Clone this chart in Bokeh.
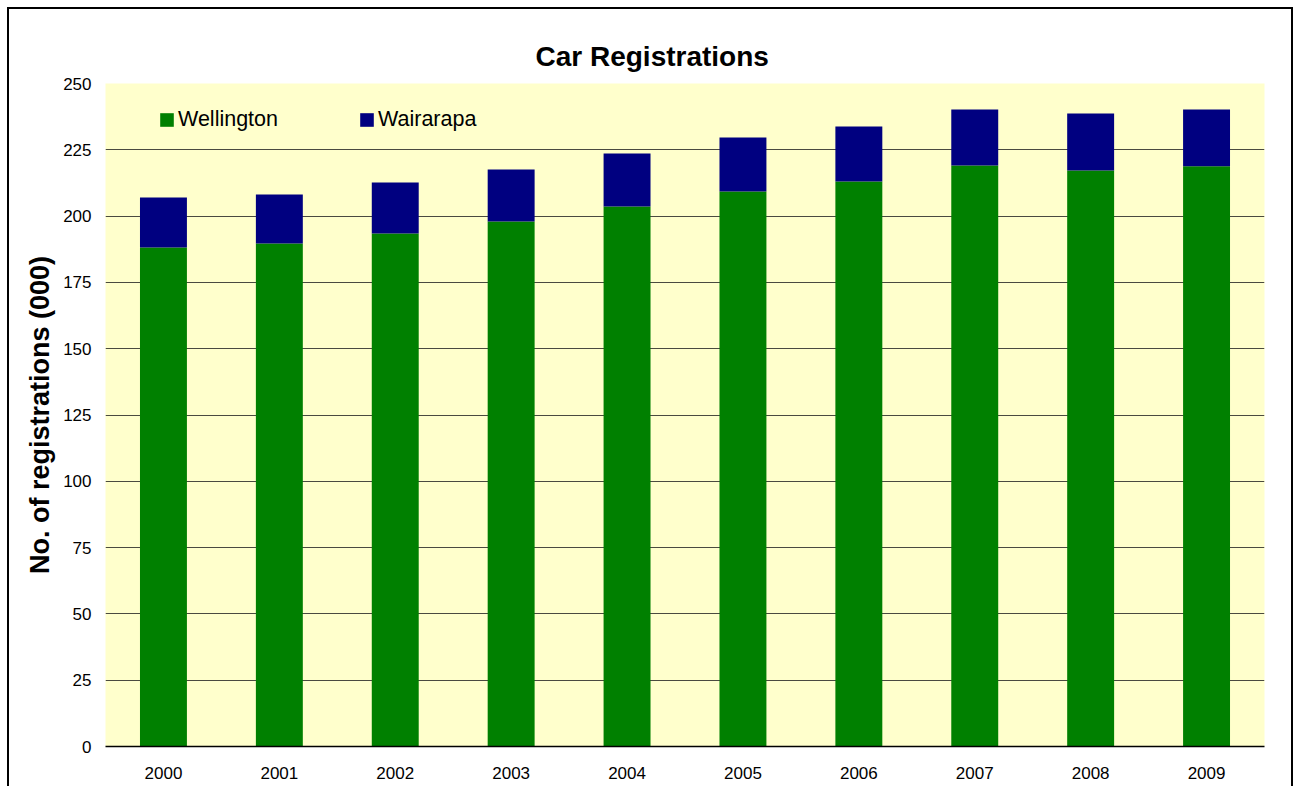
from bokeh.plotting import figure
from bokeh.layouts import column
from bokeh.models import Legend, LegendItem, FactorRange, Range1d, FixedTicker
from bokeh.embed import file_html
from bokeh.resources import INLINE

years = ["2000", "2001", "2002", "2003", "2004", "2005", "2006", "2007", "2008", "2009"]
wellington = [188.2, 189.7, 193.4, 198.0, 203.6, 209.3, 213.0, 219.1, 217.2, 218.8]
wairarapa = [18.8, 18.4, 19.3, 19.6, 20.0, 20.3, 20.8, 21.1, 21.5, 21.4]
y_ticks = [0, 25, 50, 75, 100, 125, 150, 175, 200, 225, 250]

FONT = "Liberation Sans"

p = figure(
    width=1286, height=779,
    x_range=FactorRange(*years, range_padding=0),
    y_range=Range1d(0, 250),
    output_backend="svg", toolbar_location=None,
    min_border_left=96, min_border_right=31, min_border_top=74, min_border_bottom=42,
    title="Car Registrations",
)
p.styles = {"border-top": "2px solid black", "border-left": "2px solid black",
            "border-right": "2px solid black"}

p.title.align = "left"
p.title.offset = 430
p.title.text_font = FONT
p.title.text_font_size = "28px"
p.title.text_font_style = "bold"
p.title.text_color = "black"
p.title.standoff = 24

p.background_fill_color = "#FFFFCC"
p.border_fill_color = "white"
p.outline_line_color = None

src = dict(years=years, Wellington=wellington, Wairarapa=wairarapa)
rs = p.vbar_stack(["Wellington", "Wairarapa"], x="years", width=0.405, source=src,
                  color=["#008000", "#000080"], line_color=None)

# axes
p.yaxis.ticker = FixedTicker(ticks=y_ticks)
p.yaxis.axis_line_color = None
p.yaxis.major_tick_line_color = None
p.yaxis.minor_tick_line_color = None
p.yaxis.major_tick_out = 0
p.yaxis.minor_tick_out = 0
p.yaxis.major_label_standoff = 14
p.yaxis.major_label_text_font = FONT
p.yaxis.major_label_text_font_size = "17px"
p.yaxis.major_label_text_color = "black"
p.yaxis.axis_label = "No. of registrations (000)"
p.yaxis.axis_label_text_font = FONT
p.yaxis.axis_label_text_font_size = "27px"
p.yaxis.axis_label_text_font_style = "bold"
p.yaxis.axis_label_text_color = "black"
p.yaxis.axis_label_standoff = 5

p.xaxis.axis_line_color = "black"
p.xaxis.axis_line_width = 1.5
p.xaxis.major_tick_line_color = None
p.xaxis.minor_tick_line_color = None
p.xaxis.major_tick_out = 0
p.xaxis.minor_tick_out = 0
p.xaxis.major_label_standoff = 20
p.xaxis.major_label_text_font = FONT
p.xaxis.major_label_text_font_size = "17px"
p.xaxis.major_label_text_color = "black"

p.xgrid.grid_line_color = None
p.ygrid.grid_line_color = "#4a4a40"
p.ygrid.grid_line_width = 1

legend = Legend(
    items=[LegendItem(label="Wellington", renderers=[rs[0]]),
           LegendItem(label="Wairarapa", renderers=[rs[1]])],
    orientation="horizontal",
    location=(53, 614),
    background_fill_alpha=0, border_line_color=None,
    glyph_width=17, glyph_height=17, label_standoff=3, spacing=80, padding=0,
    label_text_font=FONT, label_text_font_size="21.5px", label_text_color="black",
)
p.add_layout(legend)

layout = column(p, styles={"padding": "7px 0px 0px 7px", "background-color": "white"})

open("out.html", "w").write(file_html(layout, INLINE))
